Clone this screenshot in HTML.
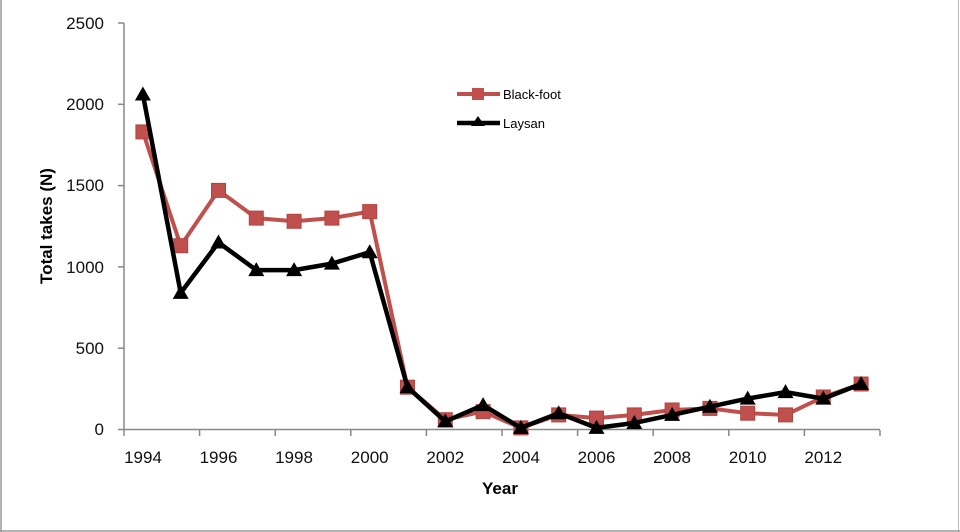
<!DOCTYPE html>
<html><head><meta charset="utf-8"><style>body{margin:0;background:#fff}svg{display:block}</style></head><body>
<svg width="960" height="532" xmlns="http://www.w3.org/2000/svg" font-family="Liberation Sans, sans-serif">
<rect width="960" height="532" fill="#fff"/>
<line x1="1" y1="0" x2="1" y2="532" stroke="#999" stroke-width="1.5"/>
<line x1="958.5" y1="0" x2="958.5" y2="532" stroke="#bbb" stroke-width="1"/>
<line x1="0" y1="531" x2="960" y2="531" stroke="#999" stroke-width="1.5"/>
<g stroke="#888" stroke-width="1.5" fill="none">
<line x1="124" y1="23" x2="124" y2="430"/>
<line x1="118" y1="429.5" x2="880" y2="429.5"/>
<line x1="118" y1="23" x2="124" y2="23"/>
<line x1="118" y1="104.3" x2="124" y2="104.3"/>
<line x1="118" y1="185.6" x2="124" y2="185.6"/>
<line x1="118" y1="266.9" x2="124" y2="266.9"/>
<line x1="118" y1="348.2" x2="124" y2="348.2"/>
<path d="M124 430v6M199.6 430v6M275.2 430v6M350.8 430v6M426.4 430v6M502 430v6M577.6 430v6M653.2 430v6M728.8 430v6M804.4 430v6M880 430v6"/>
</g>
<g font-size="17" text-anchor="end" fill="#111">
<text x="104" y="29">2500</text><text x="104" y="110">2000</text><text x="104" y="191">1500</text><text x="104" y="273">1000</text><text x="104" y="354">500</text><text x="104" y="435">0</text>
</g>
<g font-size="17" text-anchor="middle" fill="#111">
<text x="143" y="463">1994</text><text x="218.5" y="463">1996</text><text x="294" y="463">1998</text><text x="369.7" y="463">2000</text><text x="445.3" y="463">2002</text><text x="521" y="463">2004</text><text x="596.5" y="463">2006</text><text x="672" y="463">2008</text><text x="747.7" y="463">2010</text><text x="823.3" y="463">2012</text>
</g>
<text x="500" y="494" font-size="17" font-weight="bold" text-anchor="middle">Year</text>
<text transform="translate(52,226) rotate(-90)" font-size="17" font-weight="bold" text-anchor="middle">Total takes (N)</text>
<polyline fill="none" stroke="#c0504d" stroke-width="4" stroke-linejoin="round" points="142.9,131.9 180.7,245.7 218.5,190.4 256.3,218.1 294.1,221.3 331.9,218.1 369.7,211.6 407.5,387.2 445.3,419.7 483.1,411.6 520.9,427.9 558.7,414.9 596.5,418.1 634.3,414.9 672.1,410.0 709.9,408.4 747.7,413.2 785.5,414.9 823.3,397.0 861.1,384.0"/>
<g fill="#c0504d" stroke="#b04440" stroke-width="1">
<rect x="135.9" y="124.9" width="14" height="14"/><rect x="173.7" y="238.7" width="14" height="14"/><rect x="211.5" y="183.4" width="14" height="14"/><rect x="249.3" y="211.1" width="14" height="14"/><rect x="287.1" y="214.3" width="14" height="14"/><rect x="324.9" y="211.1" width="14" height="14"/><rect x="362.7" y="204.6" width="14" height="14"/><rect x="400.5" y="380.2" width="14" height="14"/><rect x="438.3" y="412.7" width="14" height="14"/><rect x="476.1" y="404.6" width="14" height="14"/><rect x="513.9" y="420.9" width="14" height="14"/><rect x="551.7" y="407.9" width="14" height="14"/><rect x="589.5" y="411.1" width="14" height="14"/><rect x="627.3" y="407.9" width="14" height="14"/><rect x="665.1" y="403.0" width="14" height="14"/><rect x="702.9" y="401.4" width="14" height="14"/><rect x="740.7" y="406.2" width="14" height="14"/><rect x="778.5" y="407.9" width="14" height="14"/><rect x="816.3" y="390.0" width="14" height="14"/><rect x="854.1" y="377.0" width="14" height="14"/>
</g>
<polyline fill="none" stroke="#000" stroke-width="4.5" stroke-linejoin="round" points="142.9,94.5 180.7,292.9 218.5,242.5 256.3,270.1 294.1,270.1 331.9,263.6 369.7,252.2 407.5,387.2 445.3,421.4 483.1,405.1 520.9,427.9 558.7,413.2 596.5,427.9 634.3,423.0 672.1,414.9 709.9,406.7 747.7,398.6 785.5,392.1 823.3,398.6 861.1,384.0"/>
<g fill="#000" id="tri">
<path d="M142.9,86.5l8,14h-16z"/><path d="M180.7,284.9l8,14h-16z"/><path d="M218.5,234.5l8,14h-16z"/><path d="M256.3,262.1l8,14h-16z"/><path d="M294.1,262.1l8,14h-16z"/><path d="M331.9,255.6l8,14h-16z"/><path d="M369.7,244.2l8,14h-16z"/><path d="M407.5,379.2l8,14h-16z"/><path d="M445.3,413.4l8,14h-16z"/><path d="M483.1,397.1l8,14h-16z"/><path d="M520.9,419.9l8,14h-16z"/><path d="M558.7,405.2l8,14h-16z"/><path d="M596.5,419.9l8,14h-16z"/><path d="M634.3,415l8,14h-16z"/><path d="M672.1,406.9l8,14h-16z"/><path d="M709.9,398.7l8,14h-16z"/><path d="M747.7,390.6l8,14h-16z"/><path d="M785.5,384.1l8,14h-16z"/><path d="M823.3,390.6l8,14h-16z"/><path d="M861.1,376l8,14h-16z"/>
</g>
<line x1="457" y1="94" x2="500" y2="94" stroke="#c0504d" stroke-width="4"/>
<rect x="472" y="88" width="12" height="12" fill="#c0504d"/>
<text x="503" y="99" font-size="13">Black-foot</text>
<line x1="457" y1="123" x2="500" y2="123" stroke="#000" stroke-width="4.5"/>
<path d="M478,116l7,10h-14z" fill="#000"/>
<text x="503" y="128" font-size="13">Laysan</text>
</svg>
</body></html>
